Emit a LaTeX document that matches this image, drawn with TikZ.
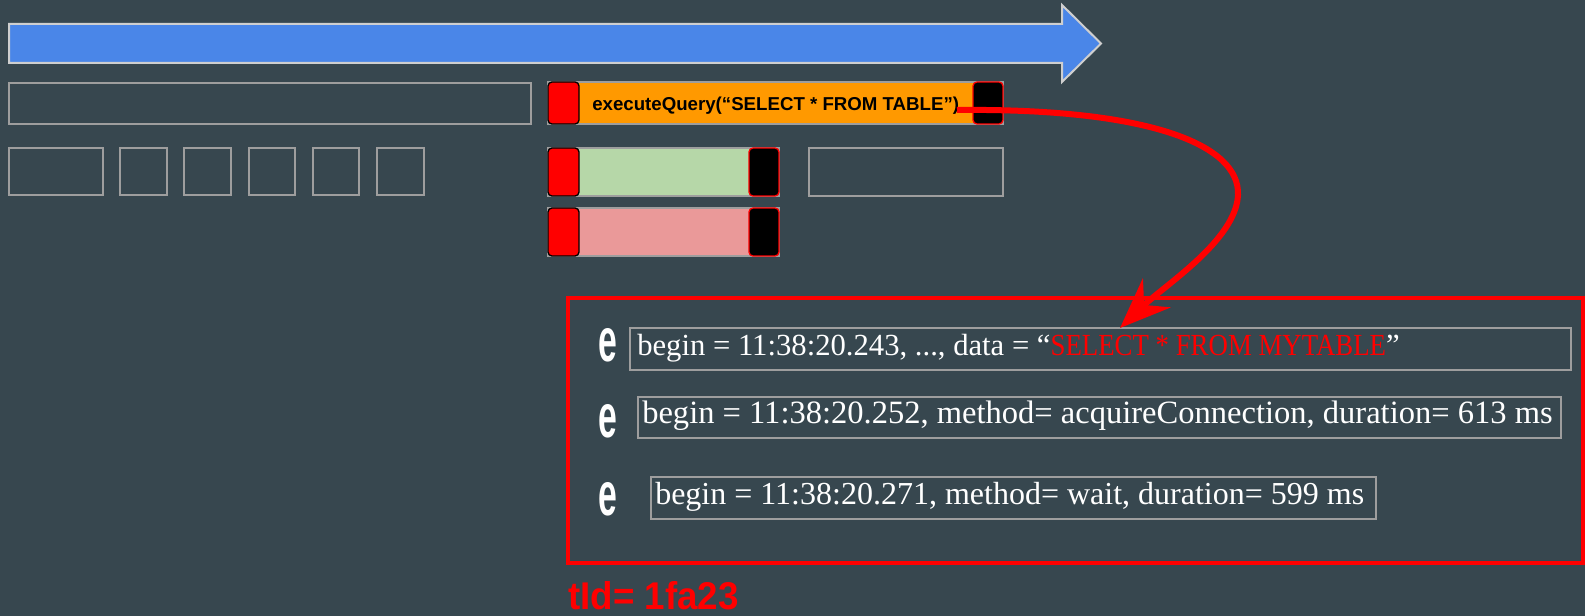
\documentclass[tikz,border=0pt]{standalone}
\usepackage{fontspec}
\setmainfont{Liberation Serif}
\setsansfont{Liberation Sans}
\usetikzlibrary{arrows.meta}
\definecolor{bg}{HTML}{37474F}
\definecolor{blueA}{HTML}{4A86E8}
\definecolor{edgeA}{HTML}{CFCFCF}
\definecolor{greyA}{HTML}{9E9E9E}
\definecolor{orangeA}{HTML}{FF9900}
\definecolor{greenA}{HTML}{B6D7A8}
\definecolor{pinkA}{HTML}{EA9999}
\definecolor{redA}{HTML}{FF0000}
\tikzset{
  outl/.style={draw=greyA, line width=1.5pt},
  bar/.style={draw=greyA, line width=1pt},
  startsq/.style={fill=redA, draw=black, line width=1pt, rounded corners=3pt},
  endsq/.style={fill=black, draw=redA, line width=1pt, rounded corners=3pt},
  logbox/.style={draw=greyA, line width=1.5pt},
  logtext/.style={anchor=base west, inner sep=0pt, text=white, font=\fontsize{24.4}{24.4}\selectfont},
  evt/.style={inner sep=0pt, text=white, font=\sffamily\bfseries\fontsize{46}{46}\selectfont},
  flow/.style={draw=redA, line width=4.5pt, -{Stealth[length=38pt, width=30pt, inset=13pt]}}
}
\begin{document}
\begin{tikzpicture}[x=0.75pt,y=-0.75pt]
\fill[bg] (0,0) rectangle (1585,616);
\useasboundingbox (0,0) rectangle (1585,616);

% timeline arrow
\draw[fill=blueA, draw=edgeA, line width=1.5pt, line join=miter]
  (9,24) -- (1062,24) -- (1062,5) -- (1101,43.5) -- (1062,82) -- (1062,63) -- (9,63) -- cycle;

% row 1
\draw[outl] (9,83) rectangle (531,124);
\draw[bar, fill=orangeA] (548,82) rectangle (1003,124);
\draw[startsq] (548,82) rectangle (579,124);
\draw[endsq] (973,82) rectangle (1003,124);
\node[anchor=base west, inner sep=0pt, font=\sffamily\bfseries\fontsize{14}{14}\selectfont] (query) at (592,111) {executeQuery(“SELECT * FROM TABLE”)};

% row 2
\draw[outl] (9,148) rectangle (103,195);
\draw[outl] (120,148) rectangle (167,195);
\draw[outl] (184,148) rectangle (231,195);
\draw[outl] (249,148) rectangle (295,195);
\draw[outl] (313,148) rectangle (359,195);
\draw[outl] (377,148) rectangle (424,195);
\draw[bar, fill=greenA] (548,148) rectangle (779,196);
\draw[startsq] (548,148) rectangle (579,196);
\draw[endsq] (749,148) rectangle (779,196);
\draw[outl] (809,148) rectangle (1003,196);

% row 3
\draw[bar, fill=pinkA] (548,208) rectangle (779,256);
\draw[startsq] (548,208) rectangle (579,256);
\draw[endsq] (749,208) rectangle (779,256);

% detail panel
\draw[draw=redA, line width=2.5pt] (568,298) rectangle (1583,563);

\draw[logbox] (630,328) rectangle (1571,370);
\draw[logbox] (638,397) rectangle (1561,438);
\draw[logbox] (651,477) rectangle (1376,519);

\node[evt] (e1) at (608,345) {\scalebox{0.55}[1]{e}};
\node[evt] (e2) at (608,421) {\scalebox{0.55}[1]{e}};
\node[evt] (e3) at (608,499) {\scalebox{0.55}[1]{e}};

\node[logtext, font=\fontsize{23}{23}\selectfont] (l1) at (637,356) {begin = 11:38:20.243, ..., data = “\textcolor{redA}{\scalebox{0.875}[1]{SELECT * FROM MYTABLE}}”};
\node[logtext] (l2) at (642,424) {begin = 11:38:20.252, method= acquireConnection, duration= 613 ms};
\node[logtext, font=\fontsize{24}{24}\selectfont] (l3) at (655,504) {begin = 11:38:20.271, method= wait, duration= 599 ms};

\node[anchor=base west, inner sep=0pt, text=redA, font=\sffamily\bfseries\fontsize{29}{29}\selectfont] (tid) at (568,609) {\scalebox{0.95}[1]{tId= 1fa23}};

% connector
\coordinate (qend) at (957,110);
\coordinate (tip) at (1120,328);
\draw[flow] (qend) .. controls (1150,108) and (1240,145) .. (1238,195)
  .. controls (1236,240) and (1165,285) .. (tip);
\end{tikzpicture}
\end{document}
